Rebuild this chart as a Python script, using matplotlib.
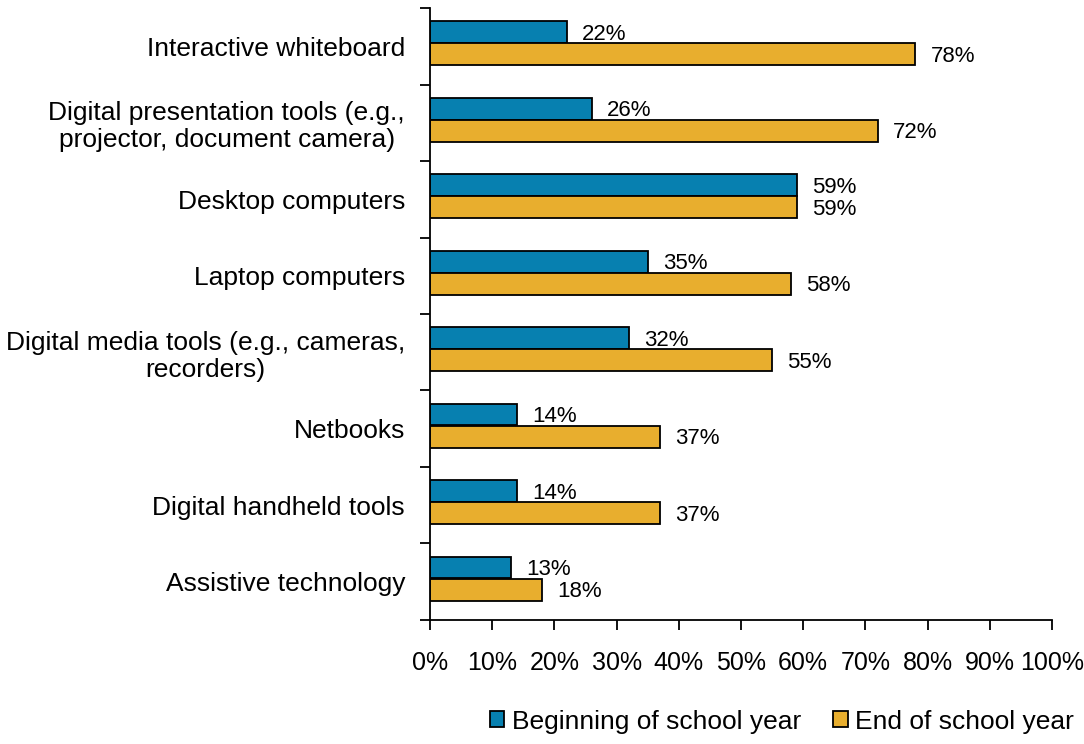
import numpy as np
import matplotlib.pyplot as plt
from matplotlib.ticker import FixedLocator, PercentFormatter

plt.rcParams['font.family'] = ['Liberation Sans', 'DejaVu Sans']

categories = [
    'Interactive whiteboard',
    'Digital presentation tools (e.g.,\nprojector, document camera)',
    'Desktop computers',
    'Laptop computers',
    'Digital media tools (e.g., cameras,\nrecorders)',
    'Netbooks',
    'Digital handheld tools',
    'Assistive technology',
]
beginning = [22, 26, 59, 35, 32, 14, 14, 13]
end_year = [78, 72, 59, 58, 55, 37, 37, 18]
series_names = ['Beginning of school year', 'End of school year']
colors = ['#0780B0', '#E8AE2E']

fig = plt.figure(figsize=(10.84, 7.44), dpi=100)
ax = fig.add_axes([0.3967, 0.1667, 0.5738, 0.8225])

y = np.arange(len(categories))
h = 0.285
b1 = ax.barh(y - 0.185, beginning, height=h, color=colors[0],
             edgecolor='black', linewidth=1.3, label=series_names[0])
b2 = ax.barh(y + 0.105, end_year, height=h, color=colors[1],
             edgecolor='black', linewidth=1.3, label=series_names[1])

# value labels to the right of each bar
for bars, vals in [(b1, beginning), (b2, end_year)]:
    for bar, v in zip(bars, vals):
        ax.annotate(f'{v}%', (v, bar.get_y() + bar.get_height() / 2),
                    xytext=(11, -1.5), textcoords='offset points',
                    ha='left', va='center', fontsize=16)

ax.set_xlim(0, 100)
ax.set_ylim(len(categories) - 0.5, -0.5)
ax.set_xticks(np.arange(0, 101, 10))
ax.xaxis.set_major_formatter(PercentFormatter(decimals=0))
ax.tick_params(axis='x', direction='out', length=7, width=1.3,
               labelsize=18, pad=15)

# category boundaries get tick marks, centers get the labels
ax.yaxis.set_major_locator(FixedLocator(np.arange(-0.5, len(categories), 1)))
ax.yaxis.set_major_formatter(plt.NullFormatter())
ax.yaxis.set_minor_locator(FixedLocator(y))
ax.set_yticklabels(categories, minor=True, fontsize=19, multialignment='center',
                   linespacing=1.15)
ax.tick_params(axis='y', which='major', direction='out', length=7, width=1.3)
ax.tick_params(axis='y', which='minor', length=0, pad=18)

for s in ['top', 'right']:
    ax.spines[s].set_visible(False)
for s in ['left', 'bottom']:
    ax.spines[s].set_linewidth(1.3)

fig.legend(handles=[b1, b2], loc='lower right', bbox_to_anchor=(1.013, -0.018),
           ncol=2, frameon=False, fontsize=19, handlelength=0.55,
           handleheight=0.55, handletextpad=0.3, columnspacing=1.2)

fig.savefig('out.png', dpi=100)
